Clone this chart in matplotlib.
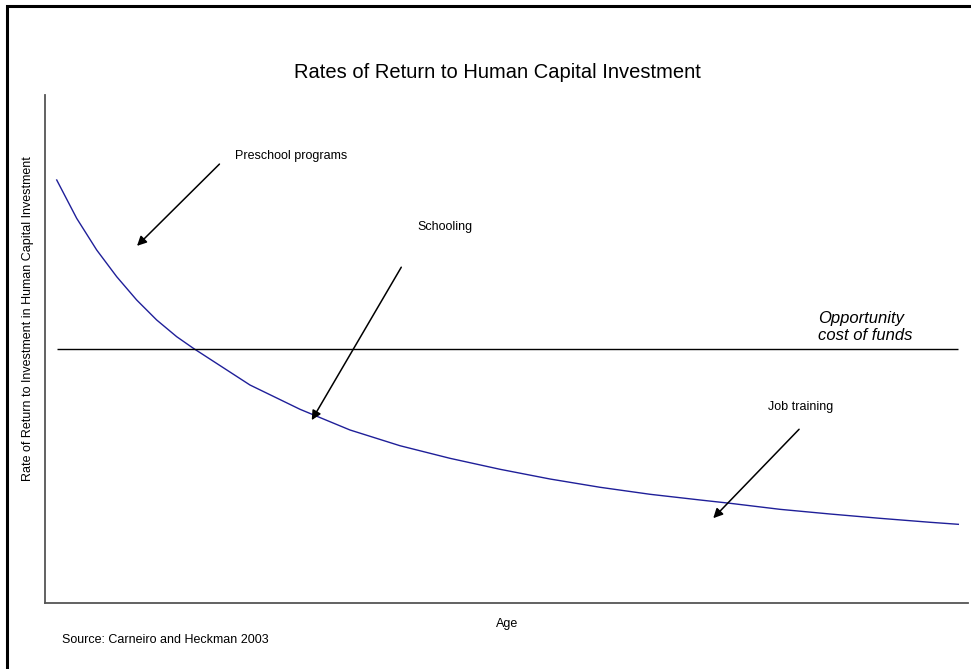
import matplotlib
matplotlib.use('Agg')
import matplotlib.pyplot as plt
from matplotlib.patches import Rectangle

plt.rcParams['font.family'] = ['Liberation Sans', 'DejaVu Sans']

# curve (arbitrary units, 0-100 on both axes)
age = [1.27, 3.43, 5.60, 7.77, 9.93, 12.10, 14.27, 16.07, 22.21, 27.63, 33.04,
       38.46, 43.88, 49.30, 54.71, 60.13, 65.55, 70.96, 74.21, 79.63, 85.05,
       90.47, 95.88, 98.95]
rate = [83.27, 75.73, 69.49, 64.23, 59.65, 55.71, 52.42, 50.14, 42.91, 38.13, 34.06,
        30.96, 28.48, 26.32, 24.41, 22.78, 21.40, 20.28, 19.63, 18.44, 17.52,
        16.67, 15.89, 15.49]

cost_of_funds = 50.0
cost_span = [1.3, 98.9]

# (label, text position, arrow tail, arrow head)
labels = ['Preschool programs', 'Schooling', 'Job training']
text_pos = [(20.6, 88.0), (40.3, 74.0), (78.3, 38.6)]
tails = [(18.9, 86.4), (38.6, 66.1), (81.7, 34.2)]
heads = [(9.97, 70.3), (28.9, 36.0), (72.4, 16.7)]

fig = plt.figure(figsize=(9.71, 6.69), dpi=100)
ax = fig.add_axes([45 / 971, 1 - 603 / 669, 923 / 971, 508 / 669])

# outer frame (only top and left edges visible in the crop)
fig.patches.append(Rectangle((6.5 / 971, -0.05), 1.1, 1 - 5.5 / 669 + 0.05,
                             transform=fig.transFigure, fill=False,
                             edgecolor='black', linewidth=2.2))

ax.plot(age, rate, color='#1f1f99', linewidth=1)
ax.hlines(cost_of_funds, cost_span[0], cost_span[1], color='black', linewidth=1)

for lab, tp, tl, hd in zip(labels, text_pos, tails, heads):
    ax.text(tp[0], tp[1], lab, fontsize=9, ha='left', va='center')
    ax.annotate('', xy=hd, xytext=tl,
                arrowprops=dict(arrowstyle='-|>', color='black', lw=1.1,
                                mutation_scale=14, shrinkA=0, shrinkB=0))

ax.text(83.8, 54.3, 'Opportunity\ncost of funds', fontsize=12,
        style='italic', ha='left', va='center', linespacing=1.2)

ax.set_xlim(0, 100)
ax.set_ylim(0, 100)
ax.set_xticks([])
ax.set_yticks([])
for side in ['top', 'right']:
    ax.spines[side].set_visible(False)
for side in ['left', 'bottom']:
    ax.spines[side].set_color('#555555')
    ax.spines[side].set_linewidth(1.3)

fig.text(497 / 971, 1 - 73 / 669, 'Rates of Return to Human Capital Investment',
         fontsize=14.5, ha='center', va='center')
fig.text(507 / 971, 1 - 624 / 669, 'Age', fontsize=9, ha='center', va='center')
fig.text(28 / 971, 1 - 319 / 669,
         'Rate of Return to Investment in Human Capital Investment',
         fontsize=9, rotation=90, ha='center', va='center')
fig.text(62 / 971, 1 - 640 / 669, 'Source: Carneiro and Heckman 2003',
         fontsize=9, ha='left', va='center')

fig.savefig('out.png', dpi=100)
